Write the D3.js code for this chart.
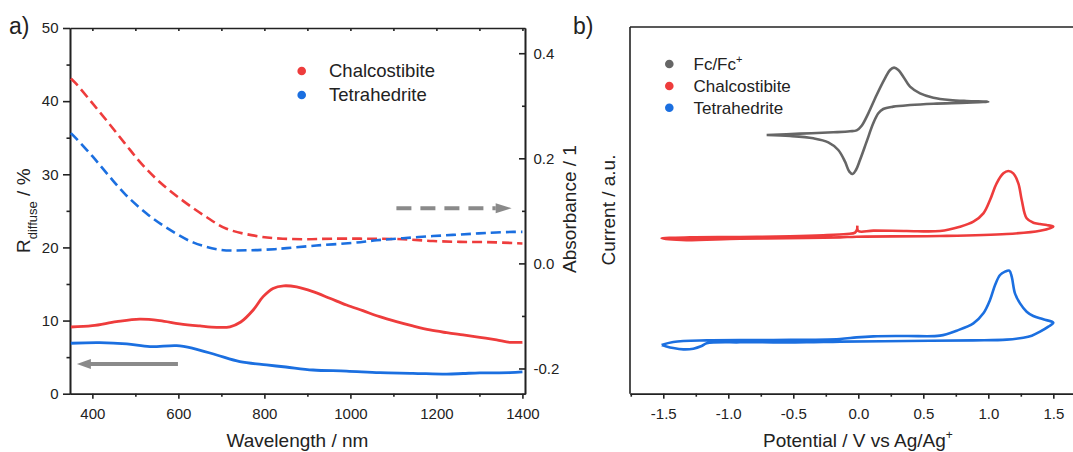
<!DOCTYPE html>
<html>
<head>
<meta charset="utf-8">
<script src="https://cdn.jsdelivr.net/npm/d3@7"></script>
<style>
  body { margin: 0; background: #fff; }
  svg { display: block; }
  text { font-family: "Liberation Sans", Arial, sans-serif; fill: #222; }
</style>
</head>
<body>
<svg id="chart" width="1073" height="452"></svg>
<script>
// ---------- Panel a: diffuse reflectance (left axis) and absorbance (right axis) ----------
const chalcoReflWl = [350,400,456,510,557,603,650,689,720,745,774,797,820,845,875,913,952,991,1029,1068,1107,1145,1185,1224,1262,1301,1340,1371,1400];
const chalcoRefl   = [9.12,9.3,9.85,10.2,10.0,9.55,9.26,9.08,9.15,9.8,11.45,13.27,14.4,14.75,14.6,13.95,13.05,12.13,11.35,10.53,9.85,9.26,8.71,8.34,8.03,7.71,7.35,7.03,7.03];

const tetraReflWl = [350,417,480,534,596,634,689,743,805,850,913,991,1068,1145,1224,1262,1301,1371,1400];
const tetraRefl   = [6.9,6.98,6.8,6.43,6.57,6.2,5.29,4.38,3.93,3.65,3.24,3.1,2.87,2.79,2.68,2.76,2.85,2.87,2.97];

const chalcoAbsWl = [350,361,400,437,476,514,559,611,662,712,790,843,900,956,1034,1122,1192,1255,1317,1379,1400];
const chalcoAbs   = [0.352,0.343,0.305,0.268,0.228,0.190,0.153,0.119,0.090,0.066,0.051,0.047,0.046,0.047,0.047,0.046,0.0425,0.041,0.0405,0.0387,0.038];

const tetraAbsWl = [350,361,400,437,477,526,576,634,697,762,824,852,921,1006,1061,1122,1192,1255,1317,1379,1400];
const tetraAbs   = [0.248,0.239,0.204,0.168,0.131,0.095,0.066,0.040,0.026,0.025,0.027,0.029,0.034,0.039,0.044,0.048,0.052,0.055,0.058,0.060,0.060];

const wlTicks = [400,600,800,1000,1200,1400];
const wlMinor = [500,700,900,1100,1300];
const reflTicks = [0,10,20,30,40,50];
const reflMinor = [5,15,25,35,45];
const absTicks = [-0.2,0.0,0.2,0.4];
const absMinor = [-0.1,0.1,0.3];

// ---------- Panel b: cyclic voltammograms (potential / V, current / a.u. with offsets) ----------
const fcPotential = [-0.705,-0.448,-0.192,-0.064,-0.013,0.026,0.077,0.141,0.205,0.244,0.275,0.308,0.346,0.398,0.475,0.577,0.705,0.834,1.0,
                     0.834,0.577,0.398,0.269,0.192,0.154,0.115,0.064,0.013,-0.018,-0.043,-0.069,-0.102,-0.154,-0.231,-0.346,-0.525,-0.705];
const fcCurrent   = [7.055,7.091,7.128,7.155,7.182,7.309,7.646,8.146,8.600,8.828,8.891,8.828,8.646,8.373,8.191,8.073,8.009,7.982,7.964,
                     7.937,7.909,7.873,7.828,7.764,7.646,7.373,6.873,6.373,6.100,5.991,6.055,6.327,6.646,6.855,6.964,7.028,7.055];

const chalcoPotential = [-0.007,0.0,0.116,0.372,0.628,0.782,0.885,0.962,1.013,1.064,1.116,1.154,1.192,1.231,1.257,1.295,1.346,1.398,1.449,1.5,
                         1.398,1.141,0.628,-0.013,-0.141,-0.397,-0.910,-1.359,-1.513,
                         -1.295,-0.910,-0.525,-0.269,-0.089,-0.025,-0.007];
const chalcoCurrent   = [4.582,4.437,4.446,4.437,4.437,4.555,4.691,4.919,5.282,5.737,6.010,6.073,6.010,5.737,5.282,4.782,4.664,4.628,4.600,4.555,
                         4.446,4.355,4.300,4.282,4.264,4.246,4.228,4.191,4.237,
                         4.264,4.273,4.291,4.319,4.355,4.391,4.510];

const tetraPotential = [-1.513,-1.423,-1.166,-0.654,-0.141,-0.013,0.116,0.372,0.628,0.757,0.885,0.962,1.013,1.052,1.090,1.128,1.162,1.180,1.205,1.244,1.295,1.346,1.423,1.5,
                        1.462,1.398,1.334,1.269,1.141,0.885,0.372,-0.141,-0.397,-0.654,-0.910,-1.166,-1.205,-1.269,-1.346,-1.423,-1.487,-1.513];
const tetraCurrent   = [1.328,1.410,1.455,1.464,1.492,1.537,1.564,1.574,1.583,1.719,1.919,2.192,2.555,2.964,3.237,3.328,3.355,3.191,2.737,2.464,2.237,2.119,2.028,1.937,
                        1.828,1.692,1.583,1.528,1.474,1.455,1.437,1.419,1.401,1.401,1.401,1.374,1.301,1.228,1.210,1.246,1.301,1.328];

const potTicks = [-1.5,-1.0,-0.5,0.0,0.5,1.0,1.5];
const potMinor = [-1.75,-1.25,-0.75,-0.25,0.25,0.75,1.25];

// ---------- Colours ----------
const RED = "#ee3c3c", BLUE = "#1b6fe0", GREY = "#666666", ARROW = "#8a8a8a", INK = "#222";

const svg = d3.select("#chart");

function styleAxis(g) {
  g.selectAll("path.domain").attr("stroke", INK).attr("stroke-width", 1.6);
  g.selectAll(".tick line").attr("stroke", INK).attr("stroke-width", 1.6);
  g.selectAll(".tick text").attr("font-size", 15).attr("fill", INK)
    .attr("font-family", '"Liberation Sans", Arial, sans-serif');
  return g;
}
const fmt1 = d => d.toFixed(1);

// ================= Panel a =================
const xA  = d3.scaleLinear().domain([348, 1406]).range([70, 525]);
const yL  = d3.scaleLinear().domain([0, 50]).range([393.7, 28]);
const yR  = d3.scaleLinear().domain([-0.248, 0.448]).range([393.7, 28]);

const pa = svg.append("g");

// bottom axis
styleAxis(pa.append("g").attr("transform", "translate(0,393.7)")
  .call(d3.axisBottom(xA).tickValues(wlTicks).tickSizeInner(5).tickSizeOuter(0).tickPadding(9.5).tickFormat(d3.format("d"))));
styleAxis(pa.append("g").attr("transform", "translate(0,393.7)")
  .call(d3.axisBottom(xA).tickValues(wlMinor).tickSizeInner(3).tickSizeOuter(0).tickFormat("")));
// top axis (inward ticks)
styleAxis(pa.append("g").attr("transform", "translate(0,28)")
  .call(d3.axisTop(xA).tickValues(wlTicks.concat(wlMinor)).tickSizeInner(-3).tickSizeOuter(0).tickFormat("")));
// left axis
styleAxis(pa.append("g").attr("transform", "translate(70,0)")
  .call(d3.axisLeft(yL).tickValues(reflTicks).tickSizeInner(7).tickSizeOuter(0).tickPadding(4.5).tickFormat(d3.format("d"))));
styleAxis(pa.append("g").attr("transform", "translate(70,0)")
  .call(d3.axisLeft(yL).tickValues(reflMinor).tickSizeInner(3.5).tickSizeOuter(0).tickFormat("")));
// right axis (inward ticks)
styleAxis(pa.append("g").attr("transform", "translate(525,0)")
  .call(d3.axisRight(yR).tickValues(absTicks).tickSizeInner(-6).tickSizeOuter(0).tickPadding(8.5).tickFormat(fmt1)));
styleAxis(pa.append("g").attr("transform", "translate(525,0)")
  .call(d3.axisRight(yR).tickValues(absMinor).tickSizeInner(-3).tickSizeOuter(0).tickFormat("")));

const smooth = d3.curveCatmullRom.alpha(0.5);
const lineRefl = (wl, v) => d3.line().x((d, i) => xA(wl[i])).y(d => yL(d)).curve(smooth)(v);
const lineAbs  = (wl, v) => d3.line().x((d, i) => xA(wl[i])).y(d => yR(d)).curve(smooth)(v);

pa.append("path").attr("d", lineAbs(chalcoAbsWl, chalcoAbs)).attr("fill", "none")
  .attr("stroke", RED).attr("stroke-width", 2.6).attr("stroke-dasharray", "10,5");
pa.append("path").attr("d", lineAbs(tetraAbsWl, tetraAbs)).attr("fill", "none")
  .attr("stroke", BLUE).attr("stroke-width", 2.6).attr("stroke-dasharray", "10,5");
pa.append("path").attr("d", lineRefl(chalcoReflWl, chalcoRefl)).attr("fill", "none")
  .attr("stroke", RED).attr("stroke-width", 2.8);
pa.append("path").attr("d", lineRefl(tetraReflWl, tetraRefl)).attr("fill", "none")
  .attr("stroke", BLUE).attr("stroke-width", 2.8);

// axis-assignment arrows
const leftArrowY = yL(4.06);
pa.append("line").attr("x1", xA(599)).attr("x2", xA(384)).attr("y1", leftArrowY).attr("y2", leftArrowY)
  .attr("stroke", ARROW).attr("stroke-width", 4);
pa.append("path").attr("fill", ARROW)
  .attr("d", `M${xA(364)},${leftArrowY} L${xA(364) + 14},${leftArrowY - 5} L${xA(364) + 14},${leftArrowY + 5} Z`);

const rightArrowY = yR(0.105);
pa.append("line").attr("x1", xA(1107)).attr("x2", xA(1338)).attr("y1", rightArrowY).attr("y2", rightArrowY)
  .attr("stroke", ARROW).attr("stroke-width", 4).attr("stroke-dasharray", "15,9");
pa.append("path").attr("fill", ARROW)
  .attr("d", `M${xA(1375)},${rightArrowY} L${xA(1375) - 16},${rightArrowY - 5} L${xA(1375) - 16},${rightArrowY + 5} Z`);

// legend a
const legA = [["Chalcostibite", RED, 71], ["Tetrahedrite", BLUE, 95]];
legA.forEach(([name, col, y]) => {
  pa.append("circle").attr("cx", 301.7).attr("cy", y).attr("r", 4.3).attr("fill", col);
  pa.append("text").attr("x", 329).attr("y", y + 6.3).attr("font-size", 18.5).text(name);
});

// titles a
pa.append("text").attr("x", 9).attr("y", 34).attr("font-size", 23).text("a)");
pa.append("text").attr("x", 226.5).attr("y", 446.5).attr("font-size", 19).text("Wavelength / nm");
const rl = pa.append("text").attr("transform", "translate(30,253) rotate(-90)").attr("font-size", 19);
rl.append("tspan").text("R");
rl.append("tspan").attr("font-size", 13).attr("dy", 7).text("diffuse");
rl.append("tspan").attr("dy", -7).text(" / %");
pa.append("text").attr("transform", "translate(576,209) rotate(-90)").attr("text-anchor", "middle")
  .attr("font-size", 19).text("Absorbance / 1");

// ================= Panel b =================
const xB = d3.scaleLinear().domain([-1.756, 1.656]).range([630, 1073.6]);
const yB = d3.scaleLinear().domain([0, 10]).range([393.7, 27]);

const pb = svg.append("g");

styleAxis(pb.append("g").attr("transform", "translate(0,393.7)")
  .call(d3.axisBottom(xB).tickValues(potTicks).tickSizeInner(5).tickSizeOuter(0).tickPadding(9.5).tickFormat(fmt1)));
styleAxis(pb.append("g").attr("transform", "translate(0,393.7)")
  .call(d3.axisBottom(xB).tickValues(potMinor).tickSizeInner(3).tickSizeOuter(0).tickFormat("")));
// frame: left and top lines, no ticks
pb.append("line").attr("x1", 630).attr("x2", 630).attr("y1", yB(10)).attr("y2", 393.7)
  .attr("stroke", INK).attr("stroke-width", 1.6);
pb.append("line").attr("x1", 630).attr("x2", 1073).attr("y1", yB(10)).attr("y2", yB(10))
  .attr("stroke", INK).attr("stroke-width", 1.6);

const cv = (pot, cur) => d3.line().x((d, i) => xB(pot[i])).y(d => yB(d)).curve(smooth)(cur);
pb.append("path").attr("d", cv(tetraPotential, tetraCurrent)).attr("fill", "none")
  .attr("stroke", BLUE).attr("stroke-width", 2.6).attr("stroke-linejoin", "round");
pb.append("path").attr("d", cv(chalcoPotential, chalcoCurrent)).attr("fill", "none")
  .attr("stroke", RED).attr("stroke-width", 2.6).attr("stroke-linejoin", "round");
pb.append("path").attr("d", cv(fcPotential, fcCurrent)).attr("fill", "none")
  .attr("stroke", GREY).attr("stroke-width", 2.6).attr("stroke-linejoin", "round");

// legend b
const legB = [["Fc/Fc", GREY, 64, true], ["Chalcostibite", RED, 86, false], ["Tetrahedrite", BLUE, 107.7, false]];
legB.forEach(([name, col, y, sup]) => {
  pb.append("circle").attr("cx", 669.3).attr("cy", y).attr("r", 4.3).attr("fill", col);
  const t = pb.append("text").attr("x", 693.5).attr("y", y + 6).attr("font-size", 17).text(name);
  if (sup) t.append("tspan").attr("font-size", 11).attr("dy", -7).text("+");
});

// titles b
pb.append("text").attr("x", 573).attr("y", 34).attr("font-size", 23).text("b)");
const pl = pb.append("text").attr("x", 763).attr("y", 446.5).attr("font-size", 19);
pl.append("tspan").text("Potential / V vs Ag/Ag");
pl.append("tspan").attr("font-size", 12).attr("dy", -8).text("+");
pb.append("text").attr("transform", "translate(615,210) rotate(-90)").attr("text-anchor", "middle")
  .attr("font-size", 19).text("Current / a.u.");
</script>
</body>
</html>
